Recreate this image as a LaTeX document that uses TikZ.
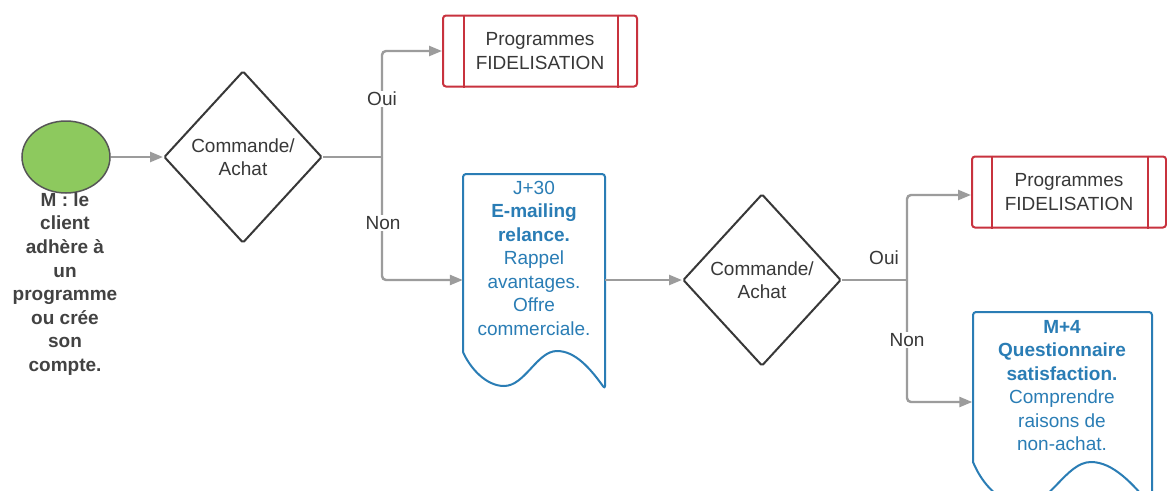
\documentclass[tikz,border=0pt]{standalone}
\usepackage{fontspec}
\setmainfont{Liberation Sans}
\usetikzlibrary{shapes.geometric,arrows.meta,calc}
\definecolor{linegray}{HTML}{9C9C9C}
\definecolor{ink}{HTML}{383838}
\definecolor{fidred}{HTML}{C8323E}
\definecolor{docblue}{HTML}{2A7DB5}
\definecolor{startgreen}{HTML}{8DC95E}
\begin{document}
\begin{tikzpicture}[x=1pt,y=-1pt,
  txt/.style={font=\fontsize{19}{23.5}\selectfont, align=center, text=ink},
  flow/.style={draw=linegray, line width=2.4pt, rounded corners=4pt, -{Triangle[length=13pt,width=10pt]}},
  link/.style={draw=linegray, line width=2.4pt, rounded corners=4pt},
  decision/.style={txt, draw=ink, line width=2pt, diamond, minimum width=158pt, minimum height=172pt, inner sep=0pt, rounded corners=1.5pt},
  program/.style={txt, draw=fidred, line width=2pt, rounded corners=3pt, minimum width=194pt, minimum height=71pt, inner sep=0pt},
  docbody/.style={txt, text=docblue, inner sep=0pt},
  docline/.style={draw=docblue, line width=2pt, line join=round},
  branch/.style={txt, fill=white, inner sep=1.5pt},
  startlbl/.style={align=center, text=ink!95, font=\bfseries\fontsize{19}{23.6}\selectfont},
]
\clip (0,0) rectangle (1167,490);
\fill[white] (0,0) rectangle (1167,490);

% start event and its caption
\node[ellipse, draw=ink!85, fill=startgreen, line width=1.5pt, minimum width=88pt, minimum height=72pt] (start) at (66,157) {};
\node[startlbl] (who) at (65,284) {M : le\\client\\adhère à\\un\\programme\\ou crée\\son\\compte.};

% first decision
\node[decision] (d1) at (243,157) {Commande/\\Achat};
\node[program] (p1) at (540,51) {Programmes\\FIDELISATION};
\draw[fidred, line width=2pt] ($(p1.north west)+(22,0)$) -- ($(p1.south west)+(22,0)$);
\draw[fidred, line width=2pt] ($(p1.north east)+(-20,0)$) -- ($(p1.south east)+(-20,0)$);

% reminder e-mail document
\draw[docline] (463,352) [rounded corners=3pt] -- (463,174) -- (605,174) -- (605,389) [sharp corners]
  .. controls (590,368) and (575,351) .. (557,351)
  .. controls (537,351) and (525,386) .. (504,386)
  .. controls (486,386) and (470,368) .. (463,352) -- cycle;
\node[docbody, minimum width=142pt] (doc1) at (534,258) {J+30\\\textbf{E-mailing}\\\textbf{relance.}\\Rappel\\avantages.\\Offre\\commerciale.};

% second decision
\node[decision] (d2) at (762,280) {Commande/\\Achat};
\node[program] (p2) at (1069,192) {Programmes\\FIDELISATION};
\draw[fidred, line width=2pt] ($(p2.north west)+(21,0)$) -- ($(p2.south west)+(21,0)$);
\draw[fidred, line width=2pt] ($(p2.north east)+(-19,0)$) -- ($(p2.south east)+(-19,0)$);

% satisfaction survey document
\draw[docline] (973,462) [rounded corners=3pt] -- (973,312) -- (1152,312) -- (1152,507) [sharp corners]
  .. controls (1133,484) and (1113,462) .. (1091,462)
  .. controls (1066,462) and (1050,505) .. (1024,505)
  .. controls (1001,505) and (982,484) .. (973,462) -- cycle;
\node[docbody, minimum width=179pt] (doc2) at (1062,385.5) {\textbf{M+4}\\\textbf{Questionnaire}\\\textbf{satisfaction.}\\Comprendre\\raisons de\\non-achat.};

% connectors
\coordinate (j1) at (382,157);
\coordinate (j2) at (907,280);
\draw[flow] (start.east) -- (d1.west);
\draw[link] (d1.east) -- (j1);
\draw[flow] (j1) |- (p1.west);
\draw[flow] (j1) |- ($(doc1.west)+(0,22)$);
\draw[flow] (doc1.east |- d2.west) -- (d2.west);
\draw[link] (d2.east) -- (j2);
\draw[flow] (j2) |- ($(p2.west)+(0,3)$);
\draw[flow] (j2) |- ($(doc2.west)+(0,16.5)$);

% branch labels
\node[branch] (oui1) at (382,99) {Oui};
\node[branch] (non1) at (383,223) {Non};
\node[branch] (oui2) at (884,258) {Oui};
\node[branch] (non2) at (907,340) {Non};
\end{tikzpicture}
\end{document}
